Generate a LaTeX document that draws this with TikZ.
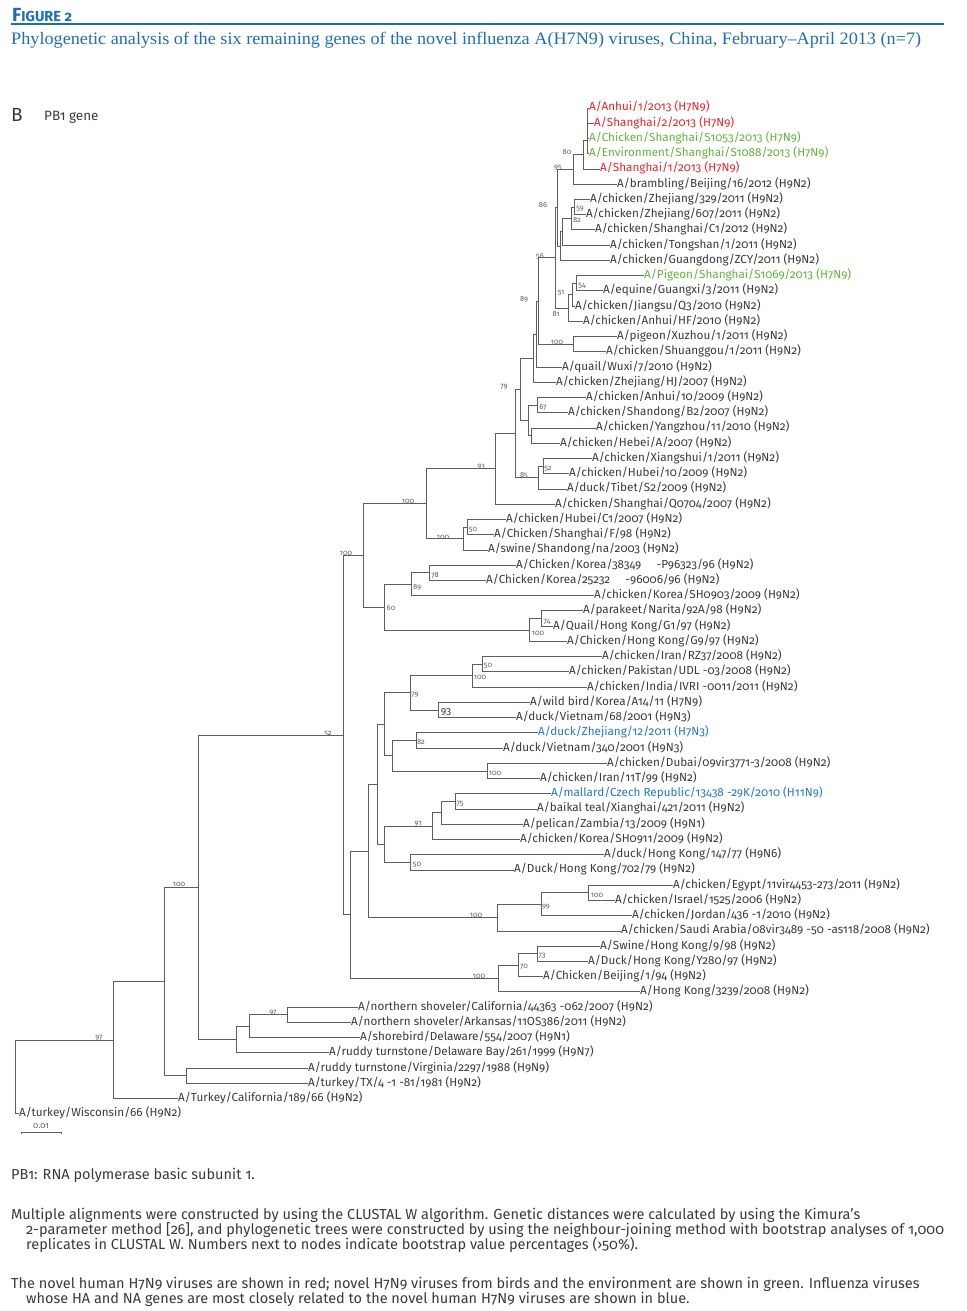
\documentclass[tikz,border=0pt]{standalone}
\usepackage{fontspec}
\setmainfont[Numbers=OldStyle]{Fira Sans}
\newfontfamily\titlefont[Ligatures=TeX,FakeStretch=1.04]{Liberation Serif}
\newfontfamily\notefont[Numbers=OldStyle]{Fira Sans}
\usepackage{xcolor}
\definecolor{h7red}{HTML}{E5262D}
\definecolor{h7green}{HTML}{62B33E}
\definecolor{hablue}{HTML}{2479C2}
\definecolor{figblue}{HTML}{1F6EB4}
\definecolor{treegrey}{HTML}{5E5E5E}
\definecolor{labgrey}{HTML}{3A3A3A}
\tikzset{
    branch/.style = {draw=treegrey, line width=0.9pt},
    leaf/.style = {anchor=west, inner sep=0pt, text height=8.5pt, text depth=2.7pt, text=labgrey, font=\fontsize{11.7}{12}\selectfont},
    human/.style = {leaf, text=h7red},
    bird/.style = {leaf, text=h7green},
    related/.style = {leaf, text=hablue},
    boot/.style = {inner sep=0pt, text=treegrey, font=\fontsize{7.5}{7.5}\selectfont},
    note/.style = {anchor=west, inner sep=0pt, text=labgrey, font=\notefont\fontsize{14.5}{15}\selectfont},
}

\begin{document}
\begin{tikzpicture}[x=1pt,y=-1pt]
\useasboundingbox (0,0) rectangle (966,1311);

% heading
\node[anchor=west, inner sep=0pt, text=figblue, font=\bfseries] (figno) at (12,15) {\fontsize{19}{19}\selectfont F\fontsize{14.5}{14.5}\selectfont IGURE 2};
\draw[figblue, line width=1.6pt] (11,24) -- (944,24);
\node[anchor=west, inner sep=0pt, text=figblue, font=\titlefont\fontsize{17.5}{18}\selectfont] (title) at (11,40) {Phylogenetic analysis of the six remaining genes of the novel influenza A(H7N9) viruses, China, February–April 2013 (n=7)};
\node[anchor=west, inner sep=0pt, text=labgrey, font=\fontsize{19}{19}\selectfont] (panel) at (11,115) {B};
\node[anchor=west, inner sep=0pt, text=labgrey, font=\fontsize{13.5}{14}\selectfont] (gene) at (44,117) {PB1 gene};

% leaves
\node[human] (anhui1) at (589,108.0) {A/Anhui/1/2013 (H7N9)};
\node[human] (shanghai2) at (594,123.2) {A/Shanghai/2/2013 (H7N9)};
\node[bird] (ckS1053) at (589,138.5) {A/Chicken/Shanghai/S1053/2013 (H7N9)};
\node[bird] (envS1088) at (589,153.7) {A/Environment/Shanghai/S1088/2013 (H7N9)};
\node[human] (shanghai1) at (600,169.0) {A/Shanghai/1/2013 (H7N9)};
\node[leaf] (brambling) at (617,184.2) {A/brambling/Beijing/16/2012 (H9N2)};
\node[leaf] (zj329) at (590,199.4) {A/chicken/Zhejiang/329/2011 (H9N2)};
\node[leaf] (zj607) at (586,214.7) {A/chicken/Zhejiang/607/2011 (H9N2)};
\node[leaf] (shC1) at (595,229.9) {A/chicken/Shanghai/C1/2012 (H9N2)};
\node[leaf] (tongshan) at (610,245.2) {A/chicken/Tongshan/1/2011 (H9N2)};
\node[leaf] (guangdong) at (610,260.4) {A/chicken/Guangdong/ZCY/2011 (H9N2)};
\node[bird] (pigeonS1069) at (644,275.6) {A/Pigeon/Shanghai/S1069/2013 (H7N9)};
\node[leaf] (equine) at (603,290.9) {A/equine/Guangxi/3/2011 (H9N2)};
\node[leaf] (jiangsu) at (575,306.1) {A/chicken/Jiangsu/Q3/2010 (H9N2)};
\node[leaf] (anhuiHF) at (583,321.4) {A/chicken/Anhui/HF/2010 (H9N2)};
\node[leaf] (xuzhou) at (617,336.6) {A/pigeon/Xuzhou/1/2011 (H9N2)};
\node[leaf] (shuanggou) at (606,351.8) {A/chicken/Shuanggou/1/2011 (H9N2)};
\node[leaf] (quail) at (562,367.1) {A/quail/Wuxi/7/2010 (H9N2)};
\node[leaf] (zjHJ) at (556,382.3) {A/chicken/Zhejiang/HJ/2007 (H9N2)};
\node[leaf] (anhui10) at (586,397.6) {A/chicken/Anhui/10/2009 (H9N2)};
\node[leaf] (shandong) at (568,412.8) {A/chicken/Shandong/B2/2007 (H9N2)};
\node[leaf] (yangzhou) at (596,428.0) {A/chicken/Yangzhou/11/2010 (H9N2)};
\node[leaf] (hebei) at (560,443.3) {A/chicken/Hebei/A/2007 (H9N2)};
\node[leaf] (xiangshui) at (592,458.5) {A/chicken/Xiangshui/1/2011 (H9N2)};
\node[leaf] (hubei10) at (569,473.8) {A/chicken/Hubei/10/2009 (H9N2)};
\node[leaf] (tibet) at (567,489.0) {A/duck/Tibet/S2/2009 (H9N2)};
\node[leaf] (q0704) at (555,504.2) {A/chicken/Shanghai/Q0704/2007 (H9N2)};
\node[leaf] (hubeiC1) at (506,519.5) {A/chicken/Hubei/C1/2007 (H9N2)};
\node[leaf] (shF98) at (494,534.7) {A/Chicken/Shanghai/F/98 (H9N2)};
\node[leaf] (swineSD) at (488,550.0) {A/swine/Shandong/na/2003 (H9N2)};
\node[leaf] (korea38349) at (516,565.2) {A/Chicken/Korea/38349\hspace{1.3em}-P96323/96 (H9N2)};
\node[leaf] (korea25232) at (486,580.4) {A/Chicken/Korea/25232\hspace{1.3em}-96006/96 (H9N2)};
\node[leaf] (koreaSH0903) at (594,595.7) {A/chicken/Korea/SH0903/2009 (H9N2)};
\node[leaf] (parakeet) at (583,610.9) {A/parakeet/Narita/92A/98 (H9N2)};
\node[leaf] (quailHK) at (553,626.2) {A/Quail/Hong Kong/G1/97 (H9N2)};
\node[leaf] (ckHKG9) at (567,641.4) {A/Chicken/Hong Kong/G9/97 (H9N2)};
\node[leaf] (iranRZ37) at (602,656.6) {A/chicken/Iran/RZ37/2008 (H9N2)};
\node[leaf] (pakistan) at (569,671.9) {A/chicken/Pakistan/UDL -03/2008 (H9N2)};
\node[leaf] (india) at (587,687.1) {A/chicken/India/IVRI -0011/2011 (H9N2)};
\node[leaf] (wildbird) at (530,702.4) {A/wild bird/Korea/A14/11 (H7N9)};
\node[leaf] (vietnam68) at (516,717.6) {A/duck/Vietnam/68/2001 (H9N3)};
\node[related] (zhejiang12) at (538,732.8) {A/duck/Zhejiang/12/2011 (H7N3)};
\node[leaf] (vietnam340) at (503,748.1) {A/duck/Vietnam/340/2001 (H9N3)};
\node[leaf] (dubai) at (607,763.3) {A/chicken/Dubai/09vir3771-3/2008 (H9N2)};
\node[leaf] (iran11T) at (540,778.6) {A/chicken/Iran/11T/99 (H9N2)};
\node[related] (mallard) at (551,793.8) {A/mallard/Czech Republic/13438 -29K/2010 (H11N9)};
\node[leaf] (baikal) at (537,809.0) {A/baikal teal/Xianghai/421/2011 (H9N2)};
\node[leaf] (pelican) at (523,824.3) {A/pelican/Zambia/13/2009 (H9N1)};
\node[leaf] (koreaSH0911) at (520,839.5) {A/chicken/Korea/SH0911/2009 (H9N2)};
\node[leaf] (dkHK147) at (604,854.8) {A/duck/Hong Kong/147/77 (H9N6)};
\node[leaf] (dkHK702) at (514,870.0) {A/Duck/Hong Kong/702/79 (H9N2)};
\node[leaf] (egypt) at (673,885.2) {A/chicken/Egypt/11vir4453-273/2011 (H9N2)};
\node[leaf] (israel) at (615,900.5) {A/chicken/Israel/1525/2006 (H9N2)};
\node[leaf] (jordan) at (632,915.7) {A/chicken/Jordan/436 -1/2010 (H9N2)};
\node[leaf] (saudi) at (621,931.0) {A/chicken/Saudi Arabia/08vir3489 -50 -as118/2008 (H9N2)};
\node[leaf] (swineHK) at (600,946.2) {A/Swine/Hong Kong/9/98 (H9N2)};
\node[leaf] (dkY280) at (588,961.4) {A/Duck/Hong Kong/Y280/97 (H9N2)};
\node[leaf] (beijing) at (543,976.7) {A/Chicken/Beijing/1/94 (H9N2)};
\node[leaf] (hk3239) at (640,991.9) {A/Hong Kong/3239/2008 (H9N2)};
\node[leaf] (shovCA) at (358,1007.2) {A/northern shoveler/California/44363 -062/2007 (H9N2)};
\node[leaf] (shovAR) at (351,1022.4) {A/northern shoveler/Arkansas/11OS386/2011 (H9N2)};
\node[leaf] (shorebird) at (360,1037.6) {A/shorebird/Delaware/554/2007 (H9N1)};
\node[leaf] (ruddyDE) at (329,1052.9) {A/ruddy turnstone/Delaware Bay/261/1999 (H9N7)};
\node[leaf] (ruddyVA) at (308,1068.1) {A/ruddy turnstone/Virginia/2297/1988 (H9N9)};
\node[leaf] (turkeyTX) at (308,1083.4) {A/turkey/TX/4 -1 -81/1981 (H9N2)};
\node[leaf] (turkeyCA) at (178,1098.6) {A/Turkey/California/189/66 (H9N2)};
\node[leaf] (turkeyWI) at (19,1113.8) {A/turkey/Wisconsin/66 (H9N2)};

% internal nodes
\coordinate (h7) at (587,140.4);
\coordinate (n80) at (583,154.7);
\coordinate (n95) at (573,169.5);
\coordinate (n59) at (574,207);
\coordinate (n82) at (571,218.5);
\coordinate (nTong) at (562,231.8);
\coordinate (nGuang) at (560,246.1);
\coordinate (n86) at (557,207.8);
\coordinate (n54) at (576,283.3);
\coordinate (n51) at (572,294.7);
\coordinate (n81) at (568,308);
\coordinate (n56) at (555,257.9);
\coordinate (nXuzhou) at (573,344.2);
\coordinate (n89) at (538,301);
\coordinate (nQuail) at (536,334);
\coordinate (nHJ) at (533,358.2);
\coordinate (n67) at (537,405.2);
\coordinate (nYangzhou) at (531,435.7);
\coordinate (nAnYa) at (528,420.5);
\coordinate (n79) at (520,389.3);
\coordinate (n52top) at (543,466.2);
\coordinate (n85) at (538,477.6);
\coordinate (nSplit) at (515,433.5);
\coordinate (n93) at (495,468.9);
\coordinate (n50sh) at (467,527.1);
\coordinate (nSwine) at (463,538.5);
\coordinate (nAsia) at (426,503.7);
\coordinate (n78) at (429,572.8);
\coordinate (nKorea) at (411,584.3);
\coordinate (n74) at (541,618.6);
\coordinate (nHK) at (529,630);
\coordinate (n60) at (384,607.1);
\coordinate (nEast) at (363,555.4);
\coordinate (n50ir) at (482,664.3);
\coordinate (nIran) at (472,675.7);
\coordinate (n93w) at (438,710);
\coordinate (n79low) at (410,692.9);
\coordinate (n82z) at (416,740.5);
\coordinate (nDubai) at (487,771);
\coordinate (nDuck) at (392,755.7);
\coordinate (nMid) at (384,724.3);
\coordinate (n75) at (455,801.4);
\coordinate (nPelican) at (441,812.9);
\coordinate (n91) at (432,826.2);
\coordinate (n50hk) at (410,862.4);
\coordinate (nWild) at (384,844.3);
\coordinate (nEurasia) at (377,784.3);
\coordinate (nIsrael) at (588,892.9);
\coordinate (n99) at (541,904.3);
\coordinate (nMideast) at (497,917.6);
\coordinate (nWest) at (368,851);
\coordinate (n73) at (537,953.8);
\coordinate (n70) at (518,965.3);
\coordinate (nG1) at (498,978.6);
\coordinate (nLow) at (350,914.8);
\coordinate (n52) at (343,735.1);
\coordinate (n97s) at (287,1014.8);
\coordinate (nShore) at (249,1026.2);
\coordinate (nAmerica) at (236,1039.6);
\coordinate (nAll) at (198,887.3);
\coordinate (nVirginia) at (186,1075.8);
\coordinate (nOld) at (164,981.6);
\coordinate (n97) at (113,1040.1);
\coordinate (root) at (15,1077);

% branches
\draw[branch] (h7) |- (anhui1.west) (h7) |- (shanghai2.west) (h7) |- (ckS1053.west) (h7) |- (envS1088.west);
\draw[branch] (n80) |- (h7) (n80) |- (shanghai1.west);
\draw[branch] (n95) |- (n80) (n95) |- (brambling.west);
\draw[branch] (n59) |- (zj329.west) (n59) |- (zj607.west);
\draw[branch] (n82) |- (n59) (n82) |- (shC1.west);
\draw[branch] (nTong) |- (n82) (nTong) |- (tongshan.west);
\draw[branch] (nGuang) |- (nTong) (nGuang) |- (guangdong.west);
\draw[branch] (n86) |- (n95) (n86) |- (nGuang);
\draw[branch] (n54) |- (pigeonS1069.west) (n54) |- (equine.west);
\draw[branch] (n51) |- (n54) (n51) |- (jiangsu.west);
\draw[branch] (n81) |- (n51) (n81) |- (anhuiHF.west);
\draw[branch] (n56) |- (n86) (n56) |- (n81);
\draw[branch] (nXuzhou) |- (xuzhou.west) (nXuzhou) |- (shuanggou.west);
\draw[branch] (n89) |- (n56) (n89) |- (nXuzhou);
\draw[branch] (nQuail) |- (n89) (nQuail) |- (quail.west);
\draw[branch] (nHJ) |- (nQuail) (nHJ) |- (zjHJ.west);
\draw[branch] (n67) |- (anhui10.west) (n67) |- (shandong.west);
\draw[branch] (nYangzhou) |- (yangzhou.west) (nYangzhou) |- (hebei.west);
\draw[branch] (nAnYa) |- (n67) (nAnYa) |- (nYangzhou);
\draw[branch] (n79) |- (nHJ) (n79) |- (nAnYa);
\draw[branch] (n52top) |- (xiangshui.west) (n52top) |- (hubei10.west);
\draw[branch] (n85) |- (n52top) (n85) |- (tibet.west);
\draw[branch] (nSplit) |- (n79) (nSplit) |- (n85);
\draw[branch] (n93) |- (nSplit) (n93) |- (q0704.west);
\draw[branch] (n50sh) |- (hubeiC1.west) (n50sh) |- (shF98.west);
\draw[branch] (nSwine) |- (n50sh) (nSwine) |- (swineSD.west);
\draw[branch] (nAsia) |- (n93) (nAsia) |- (nSwine);
\draw[branch] (n78) |- (korea38349.west) (n78) |- (korea25232.west);
\draw[branch] (nKorea) |- (n78) (nKorea) |- (koreaSH0903.west);
\draw[branch] (n74) |- (parakeet.west) (n74) |- (quailHK.west);
\draw[branch] (nHK) |- (n74) (nHK) |- (ckHKG9.west);
\draw[branch] (n60) |- (nKorea) (n60) |- (nHK);
\draw[branch] (nEast) |- (nAsia) (nEast) |- (n60);
\draw[branch] (n50ir) |- (iranRZ37.west) (n50ir) |- (pakistan.west);
\draw[branch] (nIran) |- (n50ir) (nIran) |- (india.west);
\draw[branch] (n93w) |- (wildbird.west) (n93w) |- (vietnam68.west);
\draw[branch] (n79low) |- (nIran) (n79low) |- (n93w);
\draw[branch] (n82z) |- (zhejiang12.west) (n82z) |- (vietnam340.west);
\draw[branch] (nDubai) |- (dubai.west) (nDubai) |- (iran11T.west);
\draw[branch] (nDuck) |- (n82z) (nDuck) |- (nDubai);
\draw[branch] (nMid) |- (n79low) (nMid) |- (nDuck);
\draw[branch] (n75) |- (mallard.west) (n75) |- (baikal.west);
\draw[branch] (nPelican) |- (n75) (nPelican) |- (pelican.west);
\draw[branch] (n91) |- (nPelican) (n91) |- (koreaSH0911.west);
\draw[branch] (n50hk) |- (dkHK147.west) (n50hk) |- (dkHK702.west);
\draw[branch] (nWild) |- (n91) (nWild) |- (n50hk);
\draw[branch] (nEurasia) |- (nMid) (nEurasia) |- (nWild);
\draw[branch] (nIsrael) |- (egypt.west) (nIsrael) |- (israel.west);
\draw[branch] (n99) |- (nIsrael) (n99) |- (jordan.west);
\draw[branch] (nMideast) |- (n99) (nMideast) |- (saudi.west);
\draw[branch] (nWest) |- (nEurasia) (nWest) |- (nMideast);
\draw[branch] (n73) |- (swineHK.west) (n73) |- (dkY280.west);
\draw[branch] (n70) |- (n73) (n70) |- (beijing.west);
\draw[branch] (nG1) |- (n70) (nG1) |- (hk3239.west);
\draw[branch] (nLow) |- (nWest) (nLow) |- (nG1);
\draw[branch] (n52) |- (nEast) (n52) |- (nLow);
\draw[branch] (n97s) |- (shovCA.west) (n97s) |- (shovAR.west);
\draw[branch] (nShore) |- (n97s) (nShore) |- (shorebird.west);
\draw[branch] (nAmerica) |- (nShore) (nAmerica) |- (ruddyDE.west);
\draw[branch] (nAll) |- (n52) (nAll) |- (nAmerica);
\draw[branch] (nVirginia) |- (ruddyVA.west) (nVirginia) |- (turkeyTX.west);
\draw[branch] (nOld) |- (nAll) (nOld) |- (nVirginia);
\draw[branch] (n97) |- (nOld) (n97) |- (turkeyCA.west);
\draw[branch] (root) |- (n97) (root) |- (turkeyWI.west);

% bootstrap values
\node[boot] (lab80) at (567,152) {80};
\node[boot] (lab95) at (558,168) {95};
\node[boot] (lab86) at (543,205) {86};
\node[boot] (lab59) at (580,209) {59};
\node[boot] (lab82) at (577,220) {82};
\node[boot] (lab56) at (540,256) {56};
\node[boot] (lab54) at (582,286) {54};
\node[boot] (lab51) at (561,293) {51};
\node[boot] (lab81) at (556,314) {81};
\node[boot] (lab89) at (524,299) {89};
\node[boot] (labXuzhou) at (557,342) {100};
\node[boot] (lab79) at (504,387) {79};
\node[boot] (lab67) at (543,407) {67};
\node[boot] (lab85) at (524,475) {85};
\node[boot] (lab52top) at (548,469) {52};
\node[boot] (lab93) at (481,467) {93};
\node[boot] (labAsia) at (408,501) {100};
\node[boot] (lab50sh) at (473,530) {50};
\node[boot] (labSwine) at (443,537) {100};
\node[boot] (labEast) at (346,553) {100};
\node[boot] (lab78) at (435,575) {78};
\node[boot] (labKorea) at (417,587) {89};
\node[boot] (lab60) at (391,608) {60};
\node[boot] (lab74) at (547,622) {74};
\node[boot] (labHK) at (538,633) {100};
\node[boot] (lab50ir) at (488,666) {50};
\node[boot] (labIran) at (480,677) {100};
\node[boot] (lab79low) at (415,695) {79};
\node[boot, font=\fontsize{10.5}{10.5}\selectfont, text=labgrey] (lab93w) at (446,712) {93};
\node[boot] (lab52) at (328,734) {52};
\node[boot] (lab82z) at (421,742) {82};
\node[boot] (labDubai) at (495,773) {100};
\node[boot] (lab75) at (460,804) {75};
\node[boot] (lab91) at (418,824) {91};
\node[boot] (lab50hk) at (417,865) {50};
\node[boot] (labAll) at (179,884) {100};
\node[boot] (labIsrael) at (597,895) {100};
\node[boot] (lab99) at (546,907) {99};
\node[boot] (labMideast) at (476,915) {100};
\node[boot] (lab73) at (542,956) {73};
\node[boot] (lab70) at (524,967) {70};
\node[boot] (labG1) at (479,976) {100};
\node[boot] (lab97s) at (273,1013) {97};
\node[boot] (lab97) at (99,1038) {97};

% scale bar
\coordinate (sbleft) at (21,1132);
\coordinate (sbright) at (61,1132);
\draw[branch, line width=0.7pt] (sbleft) -- (sbright) (sbleft) -- ++(0,2) (sbright) -- ++(0,2);
\node[boot, font=\fontsize{8.5}{8.5}\selectfont] (sblab) at (41,1126) {0.01};

% notes
\node[note] (abbr) at (11,1175) {PB1: RNA polymerase basic subunit 1.};
\node[note] (meth1) at (11,1215) {Multiple alignments were constructed by using the CLUSTAL W algorithm. Genetic distances were calculated by using the Kimura’s};
\node[note] (meth2) at (26,1230) {2-parameter method [26], and phylogenetic trees were constructed by using the neighbour-joining method with bootstrap analyses of 1,000};
\node[note] (meth3) at (26,1245) {replicates in CLUSTAL W. Numbers next to nodes indicate bootstrap value percentages (›50\%).};
\node[note] (col1) at (11,1284) {The novel human H7N9 viruses are shown in red; novel H7N9 viruses from birds and the environment are shown in green. Influenza viruses};
\node[note] (col2) at (26,1299) {whose HA and NA genes are most closely related to the novel human H7N9 viruses are shown in blue.};
\end{tikzpicture}
\end{document}
